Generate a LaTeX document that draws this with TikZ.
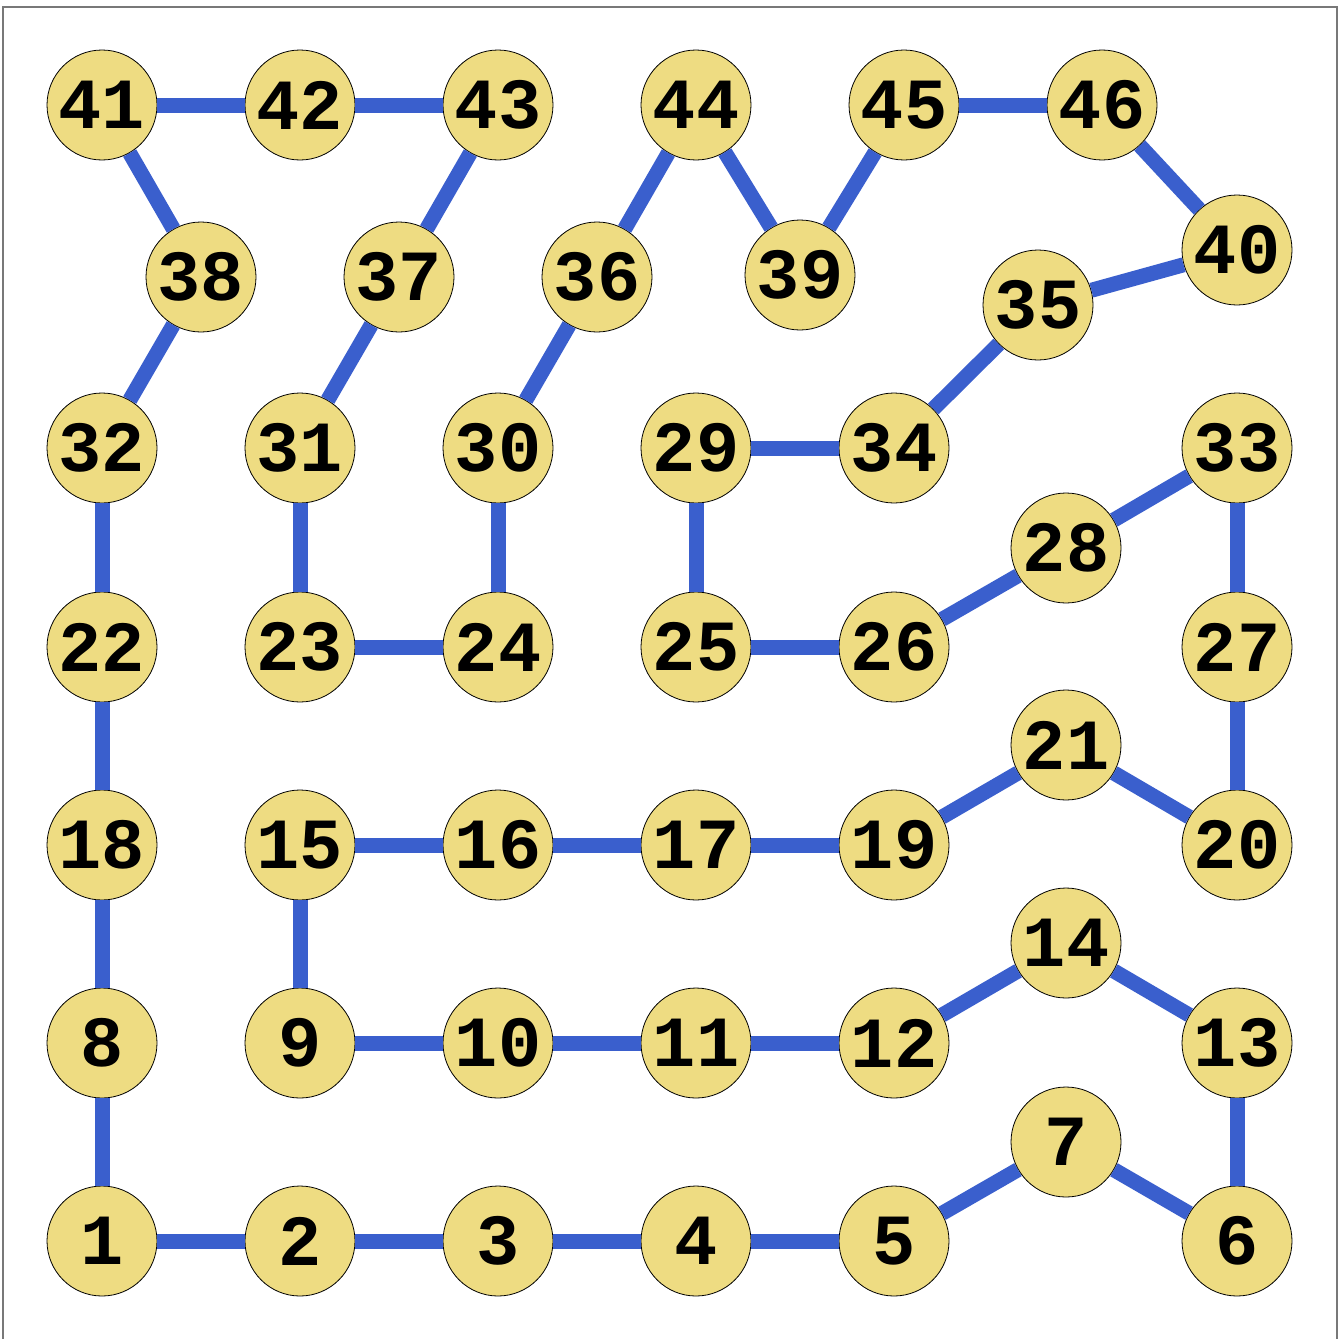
\documentclass[tikz,border=0pt]{standalone}
\usepackage{fontspec}
\newfontfamily\monob{Liberation Mono}[BoldFont={* Bold}]
\definecolor{nodefill}{RGB}{238,220,130}
\definecolor{edgeblue}{RGB}{58,95,205}
\definecolor{framegray}{RGB}{120,120,120}
\newcommand\vlbl[1]{\lower3pt\hbox{#1}}
\begin{document}
\begin{tikzpicture}[x=1pt,y=-1pt,
  vtx/.style={circle,draw=black,line width=0.8pt,fill=nodefill,minimum size=110pt,inner sep=0pt,
    font=\monob\bfseries\fontsize{72}{72}\selectfont},
  edge/.style={edgeblue,line width=15pt}]
\useasboundingbox (0,0) rectangle (1343,1338);
\clip (0,0) rectangle (1343,1338);
\draw[framegray,line width=1.2pt] (3,7) rectangle (1337,1350);
% nodes
\node[vtx] (n41) at (102,105) {\vlbl{41}};
\node[vtx] (n42) at (300,105) {\vlbl{42}};
\node[vtx] (n43) at (498,105) {\vlbl{43}};
\node[vtx] (n44) at (696,105) {\vlbl{44}};
\node[vtx] (n45) at (904,105) {\vlbl{45}};
\node[vtx] (n46) at (1102,105) {\vlbl{46}};
\node[vtx] (n38) at (201,277) {\vlbl{38}};
\node[vtx] (n37) at (399,277) {\vlbl{37}};
\node[vtx] (n36) at (597,277) {\vlbl{36}};
\node[vtx] (n39) at (800,275) {\vlbl{39}};
\node[vtx] (n40) at (1237,250) {\vlbl{40}};
\node[vtx] (n35) at (1038,305) {\vlbl{35}};
\node[vtx] (n32) at (102,448) {\vlbl{32}};
\node[vtx] (n31) at (300,448) {\vlbl{31}};
\node[vtx] (n30) at (498,448) {\vlbl{30}};
\node[vtx] (n29) at (696,448) {\vlbl{29}};
\node[vtx] (n34) at (894,448) {\vlbl{34}};
\node[vtx] (n33) at (1237,448) {\vlbl{33}};
\node[vtx] (n28) at (1066,548) {\vlbl{28}};
\node[vtx] (n22) at (102,647) {\vlbl{22}};
\node[vtx] (n23) at (300,647) {\vlbl{23}};
\node[vtx] (n24) at (498,647) {\vlbl{24}};
\node[vtx] (n25) at (696,647) {\vlbl{25}};
\node[vtx] (n26) at (894,647) {\vlbl{26}};
\node[vtx] (n27) at (1237,647) {\vlbl{27}};
\node[vtx] (n21) at (1066,745) {\vlbl{21}};
\node[vtx] (n18) at (102,845) {\vlbl{18}};
\node[vtx] (n15) at (300,845) {\vlbl{15}};
\node[vtx] (n16) at (498,845) {\vlbl{16}};
\node[vtx] (n17) at (696,845) {\vlbl{17}};
\node[vtx] (n19) at (894,845) {\vlbl{19}};
\node[vtx] (n20) at (1237,845) {\vlbl{20}};
\node[vtx] (n14) at (1066,943) {\vlbl{14}};
\node[vtx] (n8) at (102,1043) {\vlbl{8}};
\node[vtx] (n9) at (300,1043) {\vlbl{9}};
\node[vtx] (n10) at (498,1043) {\vlbl{10}};
\node[vtx] (n11) at (696,1043) {\vlbl{11}};
\node[vtx] (n12) at (894,1043) {\vlbl{12}};
\node[vtx] (n13) at (1237,1043) {\vlbl{13}};
\node[vtx] (n7) at (1066,1142) {\vlbl{7}};
\node[vtx] (n1) at (102,1241) {\vlbl{1}};
\node[vtx] (n2) at (300,1241) {\vlbl{2}};
\node[vtx] (n3) at (498,1241) {\vlbl{3}};
\node[vtx] (n4) at (696,1241) {\vlbl{4}};
\node[vtx] (n5) at (894,1241) {\vlbl{5}};
\node[vtx] (n6) at (1237,1241) {\vlbl{6}};
% edges
\foreach \a/\b in {41/42,42/43,41/38,43/37,44/36,44/39,39/45,45/46,46/40,40/35,
  38/32,37/31,36/30,35/34,29/34,32/22,31/23,30/24,29/25,33/28,33/27,23/24,25/26,26/28,
  22/18,27/20,21/20,19/21,15/16,16/17,17/19,18/8,15/9,14/12,14/13,9/10,10/11,11/12,
  8/1,13/6,7/5,7/6,1/2,2/3,3/4,4/5}
  \draw[edge] (n\a) -- (n\b);
\end{tikzpicture}
\end{document}
